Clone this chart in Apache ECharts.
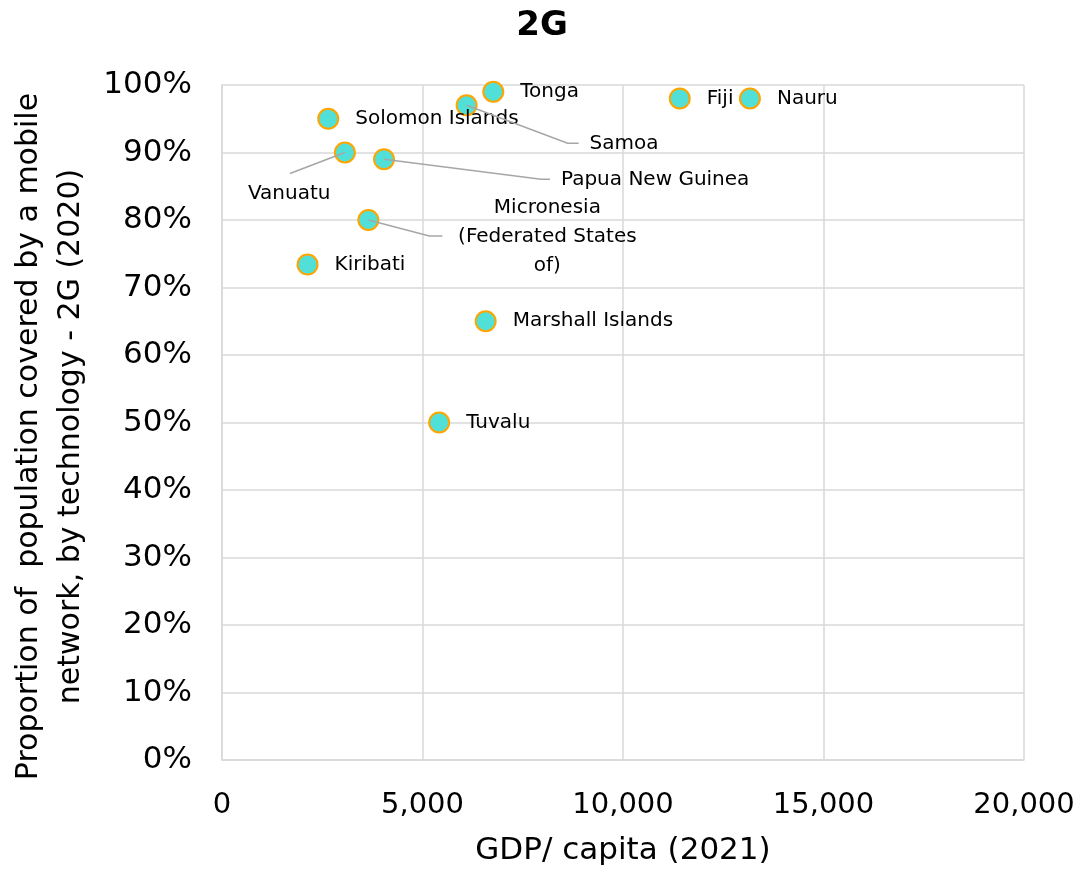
<!DOCTYPE html>
<html>
<head>
<meta charset="utf-8">
<script src="https://cdn.jsdelivr.net/npm/echarts@6/dist/echarts.min.js"></script>
<style>
html,body{margin:0;padding:0;background:#fff;}
#chart{width:1084px;height:871px;}
</style>
</head>
<body>
<div id="chart"></div>
<script>
// ---- data ----
const countries = ["Tonga","Samoa","Solomon Islands","Fiji","Nauru","Vanuatu","Papua New Guinea","Micronesia\n(Federated States\nof)","Kiribati","Marshall Islands","Tuvalu"];
const gdpPerCapita = [6765, 6100, 2650, 11415, 13165, 3065, 4040, 3650, 2133, 6575, 5415];
const coverage2G = [0.99, 0.97, 0.95, 0.98, 0.98, 0.90, 0.89, 0.80, 0.734, 0.65, 0.50];
const xTicks = { min: 0, max: 20000, interval: 5000 };
const yTicks = { min: 0, max: 1, interval: 0.1 };
const titleText = "2G";
const xName = "GDP/ capita (2021)";
const yName = "Proportion of  population covered by a mobile\nnetwork, by technology - 2G (2020)";

// ---- label placement (styling only, pixel offsets from the mark) ----
const labelMoves = {
  "Samoa": { offset: [96, 39] },
  "Papua New Guinea": { offset: [150, 21] },
  "Vanuatu": { offset: [-124, 41] },
  "Micronesia\n(Federated States\nof)": { offset: [152, 17], align: 'center', lineHeight: 29 }
};
// leader line bends, relative to the mark centre
const leaderBends = {
  "Samoa": [[101, 38], [112, 38]],
  "Papua New Guinea": [[157, 20], [166, 20]],
  "Vanuatu": [[-55, 21]],
  "Micronesia\n(Federated States\nof)": [[61, 16], [74, 16]]
};

const FONT = "DejaVu Sans";
const data = countries.map((name, i) => {
  const item = { name: name, value: [gdpPerCapita[i], coverage2G[i]] };
  const mv = labelMoves[name];
  if (mv) item.label = Object.assign({}, mv);
  return item;
});
const leaderData = countries
  .map((name, i) => ({ name: name, value: [gdpPerCapita[i], coverage2G[i]] }))
  .filter(d => leaderBends[d.name]);

const chart = echarts.init(document.getElementById('chart'), null, { renderer: 'canvas' });
chart.setOption({
  animation: false,
  backgroundColor: '#ffffff',
  title: {
    text: titleText,
    left: 'center',
    top: 4,
    textStyle: { fontFamily: FONT, fontWeight: 'bold', fontSize: 34, color: '#000' }
  },
  grid: { left: 222, right: 60, top: 85, bottom: 111, containLabel: false, outerBoundsMode: 'none' },
  xAxis: {
    type: 'value',
    min: xTicks.min, max: xTicks.max, interval: xTicks.interval,
    name: xName,
    nameLocation: 'middle',
    nameGap: 75,
    nameTextStyle: { fontFamily: FONT, fontSize: 31, color: '#000' },
    axisLine: { show: true, lineStyle: { color: '#d9d9d9', width: 1.5 } },
    axisTick: { show: false },
    axisLabel: {
      margin: 31,
      fontFamily: FONT, fontSize: 29, color: '#000',
      formatter: v => v.toLocaleString('en-US')
    },
    splitLine: { show: true, lineStyle: { color: '#d9d9d9', width: 1.5 } }
  },
  yAxis: {
    type: 'value',
    min: yTicks.min, max: yTicks.max, interval: yTicks.interval,
    name: yName,
    nameLocation: 'middle',
    nameGap: 129,
    nameTextStyle: { fontFamily: FONT, fontSize: 30, lineHeight: 42, color: '#000', padding: [0, 28, 0, 0] },
    axisLine: { show: true, lineStyle: { color: '#d9d9d9', width: 1.5 } },
    axisTick: { show: false },
    axisLabel: {
      margin: 30,
      fontFamily: FONT, fontSize: 31, color: '#000',
      formatter: v => Math.round(v * 100) + '%'
    },
    splitLine: { show: true, lineStyle: { color: '#d9d9d9', width: 1.5 } }
  },
  series: [{
    type: 'scatter',
    symbol: 'circle',
    symbolSize: 20,
    z: 2,
    itemStyle: { color: '#50e0d8', borderColor: '#ffa500', borderWidth: 2, opacity: 1 },
    label: {
      show: true,
      position: 'right',
      distance: 16,
      formatter: p => p.name,
      fontFamily: FONT, fontSize: 20, color: '#000'
    },
    emphasis: { disabled: true },
    data: data
  }, {
    type: 'custom',
    z: 3,
    silent: true,
    renderItem: function (params, api) {
      const pt = api.coord([api.value(0), api.value(1)]);
      const bends = leaderBends[leaderData[params.dataIndex].name];
      const pts = [pt].concat(bends.map(b => [pt[0] + b[0], pt[1] + b[1]]));
      return {
        type: 'polyline',
        shape: { points: pts },
        style: { stroke: '#a6a6a6', lineWidth: 1.5, fill: null }
      };
    },
    data: leaderData
  }]
});
</script>
</body>
</html>
